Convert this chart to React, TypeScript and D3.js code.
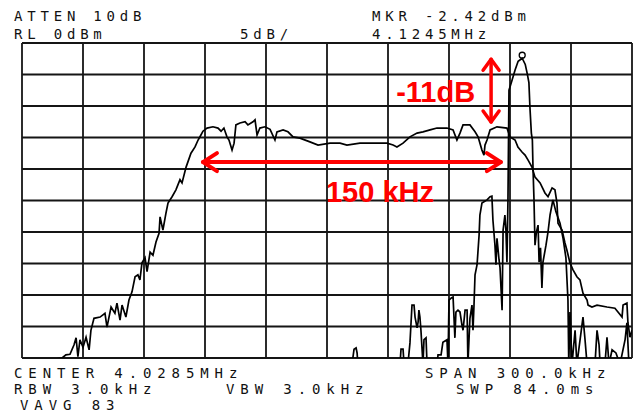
import React from 'react';
import * as d3 from 'd3';

// spectrum analyser screen: 3.8785 .. 4.1785 MHz, 0 .. -50 dBm
const spanKHz = [0, 300];
const levelDb = [-50, 0];
const freqGrid = [0, 30, 60, 90, 120, 150, 180, 210, 240, 270, 300];
const levelGrid = [0, -5, -10, -15, -20, -25, -30, -35, -40, -45, -50];

// filter response trace: [kHz from start, dBm]
const filterTrace: [number, number][] = [
  [0, -51], [19.7, -50.0], [21.6, -49.5], [23.6, -49.4], [25.6, -47.9], [26.6, -46.8], [27.5, -49.8],
  [28.5, -47.1], [30.0, -48.3], [31.5, -46.7], [33.0, -48.7], [33.9, -45.6], [35.4, -43.7], [38.4, -43.5],
  [40.8, -42.9], [41.8, -45.1], [43.8, -41.9], [45.7, -42.9], [46.7, -41.3], [48.2, -44.0], [49.2, -41.6],
  [51.1, -43.5], [52.6, -40.8], [54.1, -39.5], [55.6, -37.1], [57.0, -36.8], [58.0, -37.6], [59.0, -34.9],
  [60.5, -34.1], [61.5, -36.3], [63.0, -33.2], [64.4, -33.7], [65.9, -31.6], [67.4, -30.2], [67.9, -27.6],
  [69.3, -29.7], [70.8, -27.0], [71.8, -25.4], [73.8, -24.4], [75.7, -23.3], [77.7, -21.7], [78.7, -22.2],
  [80.7, -19.7], [83.1, -17.5], [85.1, -16.5], [86.6, -15.4], [88.0, -14.6], [89.0, -14.0], [91.0, -13.5],
  [93.9, -13.3], [96.4, -13.5], [97.9, -14.0], [99.3, -13.5], [100.8, -14.9], [101.8, -15.4], [103.3, -17.0],
  [104.3, -15.9], [105.2, -13.0], [107.2, -12.7], [109.7, -12.5], [111.1, -13.0], [113.6, -12.5],
  [114.6, -12.2], [115.6, -14.6], [117.0, -13.5], [119.5, -13.3], [122.0, -13.7], [124.4, -15.4],
  [125.4, -14.1], [128.4, -13.8], [130.8, -14.1], [133.3, -14.9], [136.7, -15.1], [141.6, -15.7],
  [145.6, -16.2], [151.5, -15.9], [156.4, -15.9], [159.8, -16.2], [166.2, -15.9], [172.6, -15.9],
  [179.5, -15.9], [182.5, -16.2], [184.4, -16.5], [187.4, -15.9], [190.8, -14.9], [194.3, -14.3],
  [197.2, -14.1], [200.7, -13.8], [204.1, -13.5], [209.0, -13.5], [212.0, -13.8], [213.9, -15.4],
  [215.4, -14.3], [216.9, -13.0], [220.3, -13.0], [222.8, -14.1], [224.3, -14.9], [226.2, -17.0],
  [227.2, -17.8], [227.7, -16.2], [228.7, -15.4], [230.2, -13.8], [233.6, -13.3], [238.5, -13.5],
  [240.0, -14.9], [242.5, -15.4], [243.9, -16.5], [245.9, -17.3], [247.4, -17.8], [248.9, -18.6],
  [250.8, -19.7], [252.3, -21.3], [254.8, -22.2], [257.2, -23.8], [258.7, -24.4], [260.7, -23.0],
  [262.1, -23.3], [263.1, -25.4], [263.6, -28.6], [265.6, -29.7], [267.0, -31.7], [268.0, -32.9],
  [269.5, -34.9], [271.0, -36.0], [272.9, -37.1], [274.4, -37.6], [275.9, -39.7], [277.9, -40.8],
  [278.4, -41.6], [280.3, -41.9], [282.8, -41.6], [287.7, -41.9], [291.6, -42.1], [293.1, -42.7],
  [295.1, -43.5], [295.6, -41.6], [297.5, -41.3], [298.0, -44.4], [299.0, -46.7], [300.0, -45.6],
];

// carrier / spur trace
const carrierTrace: [number, number][] = [
  [0, -51], [162.3, -51], [163.3, -48.6], [164.3, -48.4], [164.8, -49.2], [165.2, -51], [185.9, -51],
  [186.4, -48.6], [187.4, -48.6], [187.9, -51], [189.8, -51], [190.8, -47.6], [191.8, -41.6], [192.8, -41.6],
  [193.3, -43.5], [194.3, -45.2], [194.8, -44.3], [195.2, -42.4], [195.7, -43.5], [196.2, -45.6],
  [197.2, -51], [197.7, -47.1], [198.7, -46.8], [199.2, -51], [204.1, -51], [204.6, -49.5], [206.1, -49.5],
  [207.0, -47.5], [209.0, -47.1], [209.5, -51], [210.0, -40.8], [211.0, -40.5], [212.0, -40.3],
  [212.9, -46.8], [213.4, -42.7], [214.4, -42.4], [215.4, -42.7], [216.4, -44.8], [216.9, -45.6],
  [217.9, -42.4], [218.9, -42.4], [219.3, -51], [220.3, -43.7], [221.3, -41.6], [221.8, -45.6],
  [222.3, -41.6], [222.8, -36.8], [223.8, -35.2], [224.8, -30.5], [225.2, -27.3], [226.2, -25.4],
  [228.7, -24.9], [230.2, -24.4], [231.1, -24.3], [231.6, -28.1], [232.6, -32.1], [233.1, -35.2],
  [233.6, -31.0], [234.6, -34.4], [235.1, -35.7], [236.1, -42.4], [236.6, -29.7], [237.5, -27.3],
  [238.0, -29.7], [238.5, -34.8], [239.0, -24.9], [239.5, -7.5], [241.0, -5.9], [242.5, -4.3],
  [244.0, -2.9], [246.0, -2.42], [247.5, -3.4], [248.5, -4.9], [249.3, -6.3], [249.8, -10.2],
  [250.5, -14.3], [251.0, -15.4], [251.3, -19.7], [251.8, -24.9], [252.3, -32.1], [253.0, -30.0],
  [253.8, -28.9], [254.3, -34.8], [255.0, -32.5], [255.7, -38.9], [256.2, -34.8], [257.7, -32.1],
  [258.7, -30.0], [259.7, -27.3], [261.1, -24.9], [262.6, -26.8], [264.6, -28.6], [266.1, -31.0],
  [267.5, -34.1], [268.5, -40.8], [268.7, -45.6], [268.9, -51], [269.5, -42.7], [270.5, -51],
  [271.0, -49.2], [272.0, -45.6], [272.9, -51], [275.9, -43.5], [276.9, -47.1], [277.9, -51],
  [281.8, -51], [282.8, -45.6], [283.8, -47.9], [284.3, -51], [286.7, -51], [287.7, -46.7], [288.7, -51],
  [290.2, -48.7], [292.1, -49.2], [294.1, -51], [296.6, -47.1], [297.5, -44.4], [298.5, -51], [300, -51],
];

const marker: [number, number] = [246.0, -2.42];

// annotation values
const bandEdges = [88.5, 236.0];
const bandLevel = -18.9;
const dropFreq = 230.7;
const dropLevels = [-2.42, -12.7];

const topLeft = ['ATTEN 10dB', 'RL 0dBm'];
const topMid = '5dB/';
const topRight = ['MKR -2.42dBm', '4.1245MHz'];
const bottomLines = [
  ['CENTER 4.0285MHz', '', 'SPAN 300.0kHz'],
  ['RBW 3.0kHz', 'VBW 3.0kHz', 'SWP 84.0ms'],
  ['VAVG 83', '', ''],
];

const W = 634;
const H = 410;
const plot = { left: 22, right: 632, top: 43, bottom: 358 };

export default function App() {
  const x = d3.scaleLinear().domain(spanKHz).range([plot.left, plot.right]);
  const y = d3.scaleLinear().domain(levelDb).range([plot.bottom, plot.top]);
  const line = d3.line<[number, number]>().x(d => x(d[0])).y(d => y(d[1]));

  const monoTop = { fontFamily: 'DejaVu Sans Mono', fontSize: 14, fill: '#111', letterSpacing: 4.8 } as const;
  const monoBottom = { fontFamily: 'DejaVu Sans Mono', fontSize: 14, fill: '#111', letterSpacing: 5.9 } as const;
  const red = '#ff0000';

  const hx0 = x(bandEdges[0]);
  const hx1 = x(bandEdges[1]);
  const hy = y(bandLevel);
  const vx = x(dropFreq);
  const vy0 = y(dropLevels[0]);
  const vy1 = y(dropLevels[1]);

  return (
    <svg width={W} height={H} style={{ position: 'absolute', left: 0, top: 0, background: '#fff' }}>
      <defs>
        <clipPath id="screen">
          <rect x={plot.left} y={plot.top} width={plot.right - plot.left} height={plot.bottom - plot.top} />
        </clipPath>
      </defs>

      {/* header */}
      <text x={14} y={21} {...monoTop}>{topLeft[0]}</text>
      <text x={14} y={39} {...monoTop}>{topLeft[1]}</text>
      <text x={240} y={39} {...monoTop}>{topMid}</text>
      <text x={372} y={21} {...monoTop}>{topRight[0]}</text>
      <text x={372} y={39} {...monoTop}>{topRight[1]}</text>

      {/* grid */}
      <g stroke="#151515" strokeWidth={1.8}>
        {freqGrid.map(f => (
          <line key={'v' + f} x1={x(f)} x2={x(f)} y1={plot.top} y2={plot.bottom} />
        ))}
        {levelGrid.map(l => (
          <line key={'h' + l} x1={plot.left} x2={plot.right} y1={y(l)} y2={y(l)} />
        ))}
      </g>

      {/* traces */}
      <g clipPath="url(#screen)" fill="none" stroke="#000" strokeWidth={1.7} strokeLinejoin="miter">
        <path d={line(filterTrace) || ''} />
        <path d={line(carrierTrace) || ''} />
      </g>
      <circle cx={x(marker[0])} cy={y(marker[1]) - 3} r={3} fill="none" stroke="#000" strokeWidth={1.3} />

      {/* annotations */}
      <g stroke={red} fill="none" strokeLinecap="round" strokeLinejoin="round">
        <line x1={hx0 + 1} x2={hx1 - 1} y1={hy} y2={hy} strokeWidth={4} />
        <polyline points={`${hx0 + 15},${hy - 9} ${hx0 + 1},${hy} ${hx0 + 15},${hy + 9}`} strokeWidth={4} />
        <polyline points={`${hx1 - 15},${hy - 9} ${hx1 - 1},${hy} ${hx1 - 15},${hy + 9}`} strokeWidth={4} />
        <line x1={vx} x2={vx} y1={vy0 + 1} y2={vy1 - 1} strokeWidth={3.5} />
        <polyline points={`${vx - 8},${vy0 + 12} ${vx},${vy0 + 1} ${vx + 8},${vy0 + 12}`} strokeWidth={3.5} />
        <polyline points={`${vx - 8},${vy1 - 12} ${vx},${vy1 - 1} ${vx + 8},${vy1 - 12}`} strokeWidth={3.5} />
      </g>
      <text x={x(184)} y={y(-9.4)} fill={red} fontFamily="Liberation Sans" fontWeight="bold" fontSize={29}>-11dB</text>
      <text x={x(149.5)} y={y(-25.2)} fill={red} fontFamily="Liberation Sans" fontWeight="bold" fontSize={29}>150 kHz</text>

      {/* footer */}
      {bottomLines.map((row, i) => (
        <g key={i}>
          {row[0] && <text x={i === 2 ? 20 : 14} y={378 + i * 16} {...monoBottom}>{row[0]}</text>}
          {row[1] && <text x={226} y={378 + i * 16} {...monoBottom}>{row[1]}</text>}
          {row[2] && <text x={i === 0 ? 425 : 456} y={378 + i * 16} {...monoBottom}>{row[2]}</text>}
        </g>
      ))}
    </svg>
  );
}
